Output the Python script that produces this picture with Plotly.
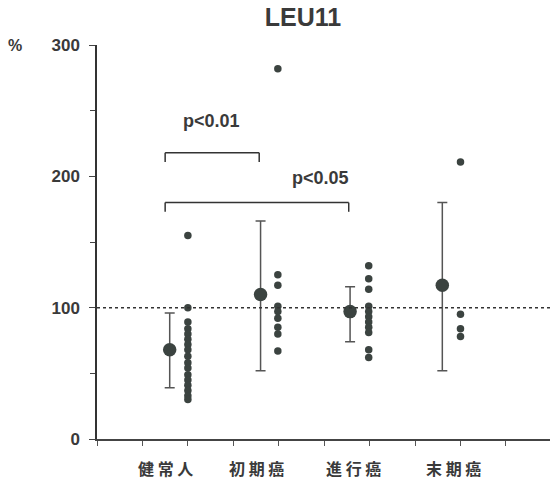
import plotly.graph_objects as go

categories = ["健常人", "初期癌", "進行癌", "末期癌"]
mean_x = [1.6, 3.6, 5.57, 7.6]
dot_x = [2.0, 3.98, 5.98, 8.0]
label_x = [1.5, 3.5, 5.65, 7.85]

means = [68, 110, 97, 117]
upper = [96, 166, 116, 180]
lower = [39, 52, 74, 52]

values = [
    [155, 100, 89, 84, 80, 76, 72, 68, 63, 58, 54, 49, 45, 41, 37, 33, 30],
    [282, 125, 117, 101, 97, 92, 85, 80, 67],
    [132, 122, 114, 101, 97, 93, 89, 85, 81, 68, 62],
    [211, 95, 84, 78],
]

brackets = [  # (group a, group b, height, label)
    (0, 1, 218, "p<0.01"),
    (0, 2, 180, "p<0.05"),
]
bracket_text_pos = [(2.52, 242), (4.91, 199)]
ref_value = 100

dark = "#3b4340"
txt = "#3a3a3a"

fig = go.Figure()

for i in range(4):
    fig.add_trace(go.Scatter(
        x=[dot_x[i]] * len(values[i]), y=values[i], mode="markers",
        marker=dict(size=7.5, color=dark), showlegend=False, cliponaxis=False))

fig.add_trace(go.Scatter(
    x=mean_x, y=means, mode="markers",
    marker=dict(size=13.5, color=dark),
    error_y=dict(type="data", symmetric=False,
                 array=[u - m for u, m in zip(upper, means)],
                 arrayminus=[m - l for m, l in zip(means, lower)],
                 color="#555555", thickness=1.5, width=5),
    showlegend=False))

shapes = [dict(type="line", xref="paper", yref="y", x0=0, x1=1, y0=ref_value, y1=ref_value,
               line=dict(color="#333333", width=1.5, dash="dot"))]
annotations = []
for (a, b, h, lab), (tx, ty) in zip(brackets, bracket_text_pos):
    xa = mean_x[a] - 0.1
    xb = mean_x[b] - 0.03
    for x0, y0, x1, y1 in [(xa, h, xb, h), (xa, h, xa, h - 7), (xb, h, xb, h - 7)]:
        shapes.append(dict(type="line", xref="x", yref="y", x0=x0, y0=y0, x1=x1, y1=y1,
                           line=dict(color="#333333", width=1.5)))
    annotations.append(dict(x=tx, y=ty, xref="x", yref="y", text=lab, showarrow=False,
                            font=dict(size=18, color=txt, family="Liberation Sans", weight="bold"),
                            xanchor="center", yanchor="middle"))

for c, lx in zip(categories, label_x):
    annotations.append(dict(x=lx, y=-29 / 394, xref="x", yref="paper", text=" ".join(c),
                            showarrow=False,
                            font=dict(size=16, color=txt, family="Noto Sans CJK JP", weight="bold"),
                            xanchor="center", yanchor="middle"))

annotations.append(dict(xref="paper", yref="paper", x=-82 / 453, y=1.0, text="%", showarrow=False,
                        font=dict(size=16, color=txt, family="Liberation Sans", weight="bold"),
                        xanchor="center", yanchor="middle"))

fig.update_layout(
    width=552, height=483,
    margin=dict(l=97, r=2, t=45, b=44),
    paper_bgcolor="white", plot_bgcolor="white",
    title=dict(text="<b>LEU11</b>", x=303 / 552, xanchor="center", y=1 - 17 / 483, yanchor="middle",
               font=dict(size=25, color="#3a3a3a", family="Liberation Sans")),
    xaxis=dict(range=[0, 9.97], showgrid=False, zeroline=False, showline=True,
               linecolor="#444444", linewidth=1.5, ticks="outside", tickvals=list(range(0, 10)),
               ticklen=5, tickcolor="#555555", showticklabels=False),
    yaxis=dict(range=[0, 300], showgrid=False, zeroline=False, showline=True,
               linecolor="#333333", linewidth=1.5, ticks="outside", tickvals=[0, 100, 200, 300],
               ticklen=6, tickcolor="#444444", ticklabelstandoff=6,
               tickfont=dict(size=17, color=txt, family="Liberation Sans", weight="bold"),
               minor=dict(tickvals=[50, 150, 250], ticks="outside", ticklen=5, tickcolor="#444444")),
    shapes=shapes, annotations=annotations, showlegend=False,
)

fig.write_html("out.html")
